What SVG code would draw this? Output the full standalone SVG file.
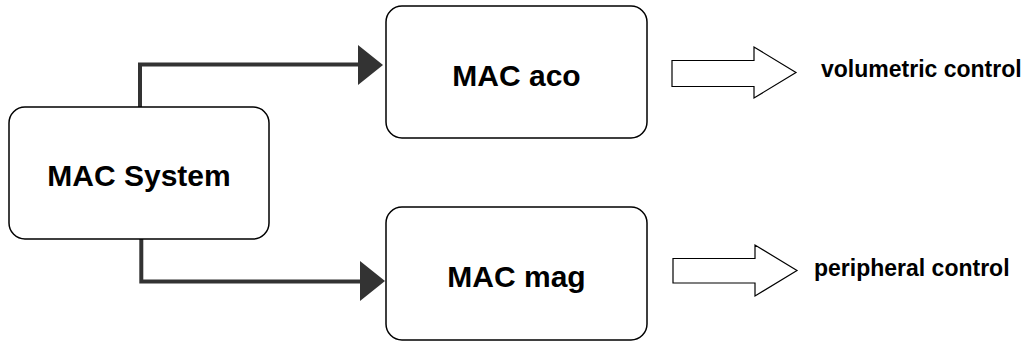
<svg xmlns="http://www.w3.org/2000/svg" width="1027" height="343" viewBox="0 0 1027 343">
<style>
.box{fill:#fff;stroke:#000;stroke-width:1.5}
.lbl{font-family:"Liberation Sans",Arial,sans-serif;font-weight:bold;font-size:30px;fill:#000;text-anchor:middle}
.out{font-family:"Liberation Sans",Arial,sans-serif;font-weight:bold;font-size:23px;fill:#000}
.conn{fill:none;stroke:#333;stroke-width:4}
.head{fill:#333;stroke:none}
.blk{fill:#fff;stroke:#000;stroke-width:1.2}
</style>
<rect width="1027" height="343" fill="#fff"/>
<g id="connectors">
<path class="conn" d="M140,107 V64.5 H360"/>
<polygon class="head" points="358,45 383,65 358,85"/>
<path class="conn" d="M141.3,239 V281.5 H362"/>
<polygon class="head" points="360,261 385,281 360,301"/>
</g>
<g id="mac-system">
<rect class="box" x="9" y="107" width="260" height="132" rx="16"/>
<text class="lbl" x="139" y="186">MAC System</text>
</g>
<g id="mac-aco">
<rect class="box" x="386" y="6" width="261" height="132" rx="16"/>
<text class="lbl" x="516.5" y="86">MAC aco</text>
</g>
<g id="mac-mag">
<rect class="box" x="386" y="207" width="261" height="133" rx="16"/>
<text class="lbl" x="516.5" y="287">MAC mag</text>
</g>
<g id="volumetric-control">
<polygon class="blk" points="672,60.5 754,60.5 754,47 796,72.5 754,98 754,86.5 672,86.5"/>
<text class="out" x="821" y="77">volumetric control</text>
</g>
<g id="peripheral-control">
<polygon class="blk" points="673,258.5 755,258.5 755,245 797,270.5 755,296 755,283 673,283"/>
<text class="out" x="814" y="276">peripheral control</text>
</g>
</svg>
